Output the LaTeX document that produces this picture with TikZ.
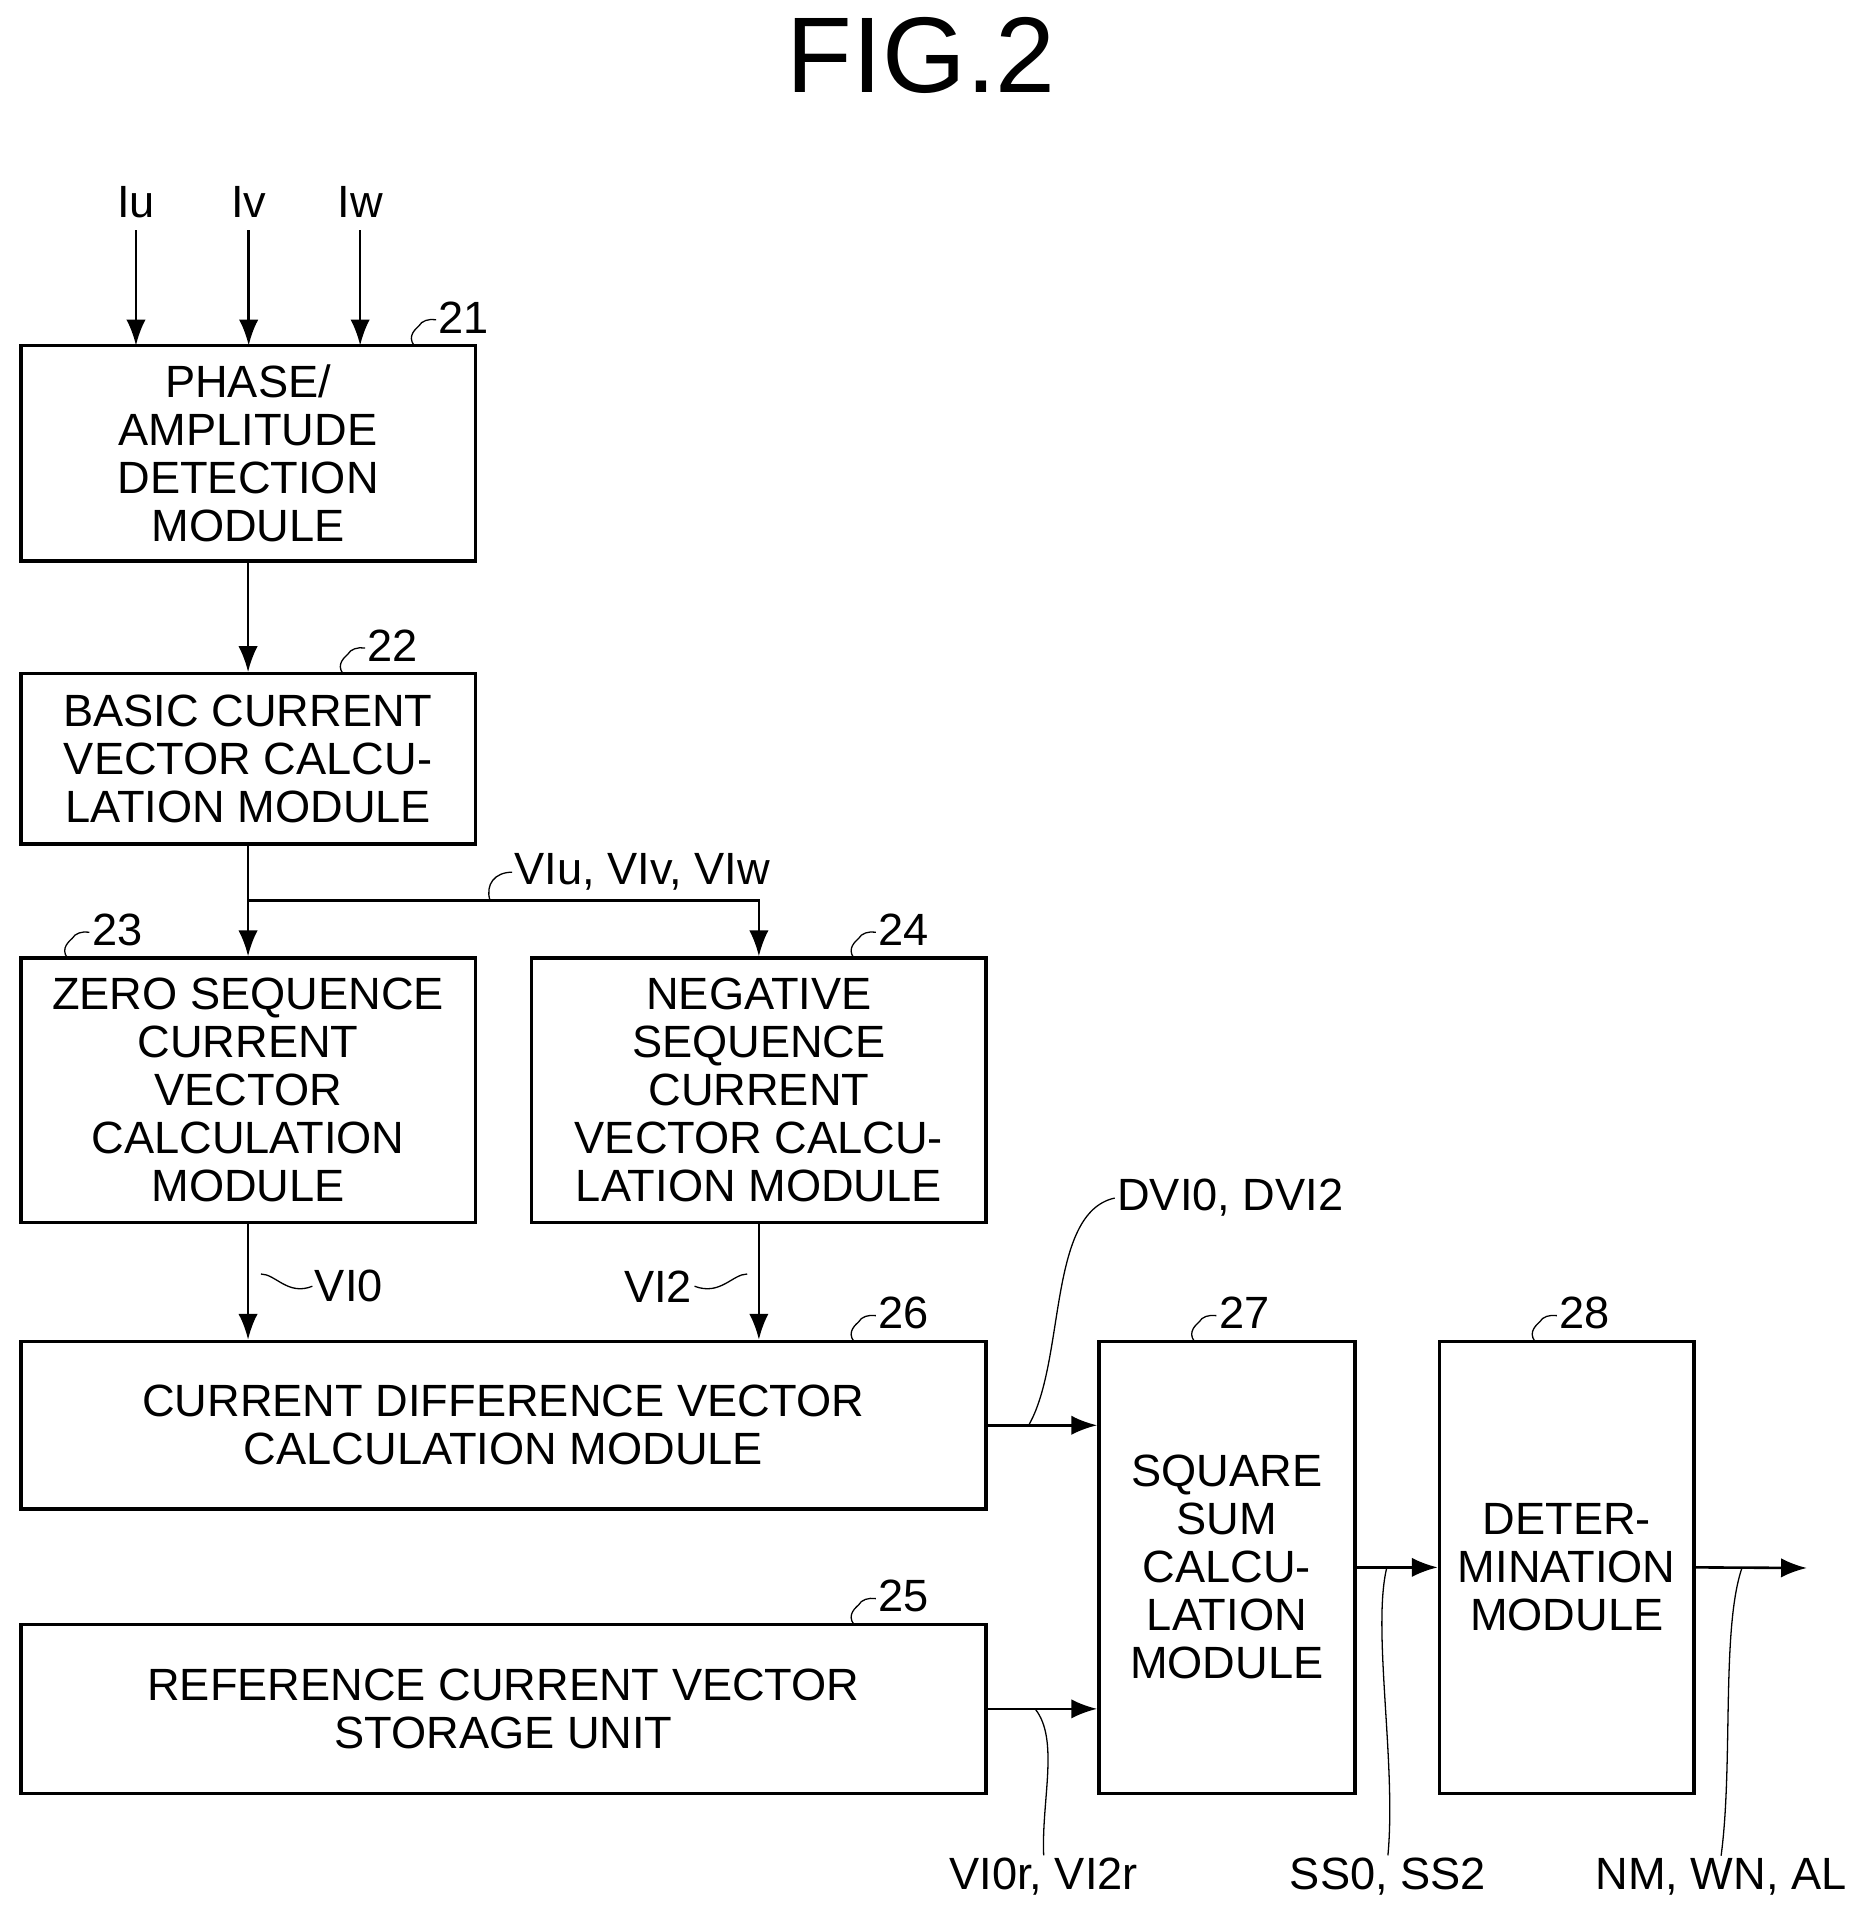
\documentclass[tikz,border=0pt]{standalone}
\usepackage{fontspec}
\setmainfont{Liberation Sans}
\usetikzlibrary{arrows.meta}
\begin{document}
\begin{tikzpicture}[x=0.02cm,y=-0.02cm,
  box/.style={draw,line width=1.6pt,align=center,inner sep=0pt,font=\fontsize{21}{22.3}\selectfont},
  arr/.style={line width=1.2pt,-{Latex[length=12pt,width=9pt]}},
  wig/.style={line width=0.6pt},
  lbl/.style={font=\fontsize{21}{22}\selectfont,inner sep=1pt}]
\useasboundingbox (0,0) rectangle (1531,1569);
\node[font=\fontsize{50}{50}\selectfont] (title) at (752,45) {FIG.2};
% boxes
\node[box,minimum width=371\pgfkeysvalueof{/pgf/x}, minimum width=7.42cm, minimum height=3.52cm] (b21) at (202.5,370) {PHASE/\\AMPLITUDE\\DETECTION\\MODULE};
\node[box,minimum width=7.42cm, minimum height=2.78cm] (b22) at (202.5,619.5) {BASIC CURRENT\\VECTOR CALCU-\\LATION MODULE};
\node[box,minimum width=7.42cm, minimum height=4.32cm] (b23) at (202.5,890) {ZERO SEQUENCE\\CURRENT\\VECTOR\\CALCULATION\\MODULE};
\node[box,minimum width=7.42cm, minimum height=4.32cm] (b24) at (619.5,890) {NEGATIVE\\SEQUENCE\\CURRENT\\VECTOR CALCU-\\LATION MODULE};
\node[box,minimum width=15.76cm, minimum height=2.74cm] (b26) at (411,1163.5) {CURRENT DIFFERENCE VECTOR\\CALCULATION MODULE};
\node[box,minimum width=15.76cm, minimum height=2.76cm] (b25) at (411,1395) {REFERENCE CURRENT VECTOR\\STORAGE UNIT};
\node[box,minimum width=4.18cm, minimum height=7.38cm] (b27) at (1001.5,1279.5) {SQUARE\\SUM\\CALCU-\\LATION\\MODULE};
\node[box,minimum width=4.16cm, minimum height=7.38cm] (b28) at (1279,1279.5) {DETER-\\MINATION\\MODULE};
% inputs
\node[lbl] (iu) at (111,165) {Iu};
\node[lbl] (iv) at (203,165) {Iv};
\node[lbl] (iw) at (294,165) {Iw};
\draw[arr] (iu.south) ++(0,8) -- (111,282);
\draw[arr] (iv.south) ++(0,8) -- (203,282);
\draw[arr] (iw.south) ++(0,8) -- (294,282);
\draw[arr] (b21.south) -- (b22.north);
\draw[arr] (b22.south) -- (b23.north);
\coordinate (br) at (203,735);
\draw[arr] (br) -| (b24.north);
\draw[arr] (b23.south) -- (b26.north -| b23.south);
\draw[arr] (b24.south) -- (b26.north -| b24.south);
\draw[arr] (b26.east) -- (b27.west |- b26.east);
\draw[arr] (b25.east) -- (b27.west |- b25.east);
\draw[arr] (b27.east) -- (b28.west);
\coordinate (out) at (1475,1280);
\draw[arr] (b28.east) -- (out);
% signal labels
\node[lbl,anchor=west] (vi) at (418,712) {VIu, VIv, VIw};
\draw[wig] (400,735) .. controls (396,722) and (404,712) .. (vi.west);
\node[lbl,anchor=west] (vi0) at (255,1050) {VI0};
\draw[wig] (213,1040) .. controls (225,1040) and (235,1058) .. (vi0.west);
\node[lbl,anchor=east] (vi2) at (567,1050) {VI2};
\draw[wig] (610,1040) .. controls (598,1040) and (588,1058) .. (vi2.east);
\node[lbl,anchor=west] (dvi) at (910,978) {DVI0, DVI2};
\draw[wig] (840,1163) .. controls (870,1110) and (855,990) .. (dvi.west);
\node[lbl] (vir) at (852,1532) {VI0r, VI2r};
\draw[wig] (845,1395) .. controls (865,1420) and (850,1470) .. (vir.north);
\node[lbl] (ss) at (1133,1532) {SS0, SS2};
\draw[wig] (1132,1280) .. controls (1120,1330) and (1140,1440) .. (ss.north);
\node[lbl] (nm) at (1405,1532) {NM, WN, AL};
\draw[wig] (1422,1280) .. controls (1405,1330) and (1415,1440) .. (nm.north);
% reference numerals
\foreach \n/\x/\y in {21/338/282, 22/280/550, 23/55/782, 24/697/782, 26/697/1095, 27/975/1095, 28/1253/1095, 25/697/1326}{
  \draw[wig] (\x,\y) .. controls (\x-6,\y-8) and (\x+2,\y-14) .. (\x+4,\y-16) .. controls (\x+6,\y-20) and (\x+12,\y-22) .. (\x+18,\y-21);
  \node[lbl,anchor=west] (n\n) at (\x+18,\y-23) {\n};
}
\end{tikzpicture}
\end{document}
